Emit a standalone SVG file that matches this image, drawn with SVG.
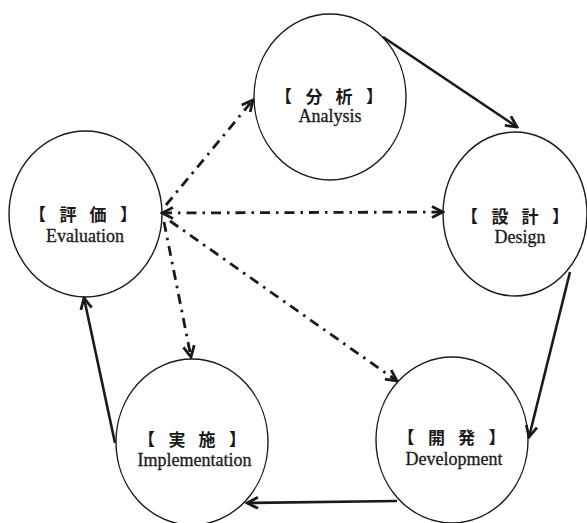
<svg xmlns="http://www.w3.org/2000/svg" width="587" height="523" viewBox="0 0 587 523">
<style>
.node ellipse{fill:#fff;stroke:#1a1a1a;stroke-width:1.4}
.jp{font-family:"Noto Sans CJK JP","Noto Sans CJK SC",sans-serif;font-weight:bold;font-size:17px;fill:#1a1a1a;text-anchor:middle}
.en{font-family:"Liberation Serif","Times New Roman",serif;font-size:18px;fill:#1a1a1a;stroke:#1a1a1a;stroke-width:0.3;text-anchor:middle}
.solid{fill:none;stroke:#1a1a1a;stroke-width:2.6}
.dash{fill:none;stroke:#1a1a1a;stroke-width:2.8;stroke-dasharray:10 6 2.5 6}
</style>
<defs>
<marker id="ah" markerUnits="userSpaceOnUse" viewBox="0 0 14 14" markerWidth="14" markerHeight="14" refX="12" refY="7" orient="auto-start-reverse">
<path d="M1,1.5 L12,7 L1,12.5" fill="none" stroke="#1a1a1a" stroke-width="2.8" stroke-linejoin="miter"/>
</marker>
</defs>
<rect width="587" height="523" fill="#fff"/>
<g id="nodes">
<g id="analysis" class="node"><ellipse cx="330" cy="97" rx="76" ry="83"/><text class="jp" y="103"><tspan x="283.5">【</tspan><tspan x="314">分</tspan><tspan x="344">析</tspan><tspan x="374.5">】</tspan></text><text class="en" x="330" y="122">Analysis</text></g>
<g id="evaluation" class="node"><ellipse cx="85.5" cy="214" rx="76.5" ry="83"/><text class="jp" y="221"><tspan x="37.5">【</tspan><tspan x="68">評</tspan><tspan x="98">価</tspan><tspan x="128.5">】</tspan></text><text class="en" x="85" y="242">Evaluation</text></g>
<g id="design" class="node"><ellipse cx="515" cy="214" rx="72" ry="82"/><text class="jp" y="223"><tspan x="469.5">【</tspan><tspan x="500">設</tspan><tspan x="530">計</tspan><tspan x="560.5">】</tspan></text><text class="en" x="520" y="243">Design</text></g>
<g id="implementation" class="node"><ellipse cx="192" cy="442" rx="76" ry="83"/><text class="jp" y="446"><tspan x="146.5">【</tspan><tspan x="177">実</tspan><tspan x="207">施</tspan><tspan x="237.5">】</tspan></text><text class="en" x="194.5" y="466">Implementation</text></g>
<g id="development" class="node"><ellipse cx="452" cy="440" rx="76" ry="83"/><text class="jp" y="444"><tspan x="406">【</tspan><tspan x="436.5">開</tspan><tspan x="466.5">発</tspan><tspan x="497">】</tspan></text><text class="en" x="454" y="465">Development</text></g>
</g>
<g id="connectors">
<line class="solid" x1="383" y1="37" x2="517" y2="127" marker-end="url(#ah)"/>
<line class="solid" x1="570" y1="272" x2="529" y2="437" marker-end="url(#ah)"/>
<line class="solid" x1="397" y1="501" x2="247" y2="503" marker-end="url(#ah)"/>
<line class="solid" x1="115" y1="443" x2="84" y2="298" marker-end="url(#ah)"/>
<line class="dash" x1="162" y1="213" x2="443" y2="212" marker-start="url(#ah)" marker-end="url(#ah)"/>
<line class="dash" x1="166" y1="205" x2="253" y2="100" marker-end="url(#ah)"/>
<line class="dash" x1="164" y1="222" x2="191" y2="357" marker-end="url(#ah)"/>
<line class="dash" x1="170" y1="221" x2="397" y2="381" marker-end="url(#ah)"/>
</g>
</svg>
